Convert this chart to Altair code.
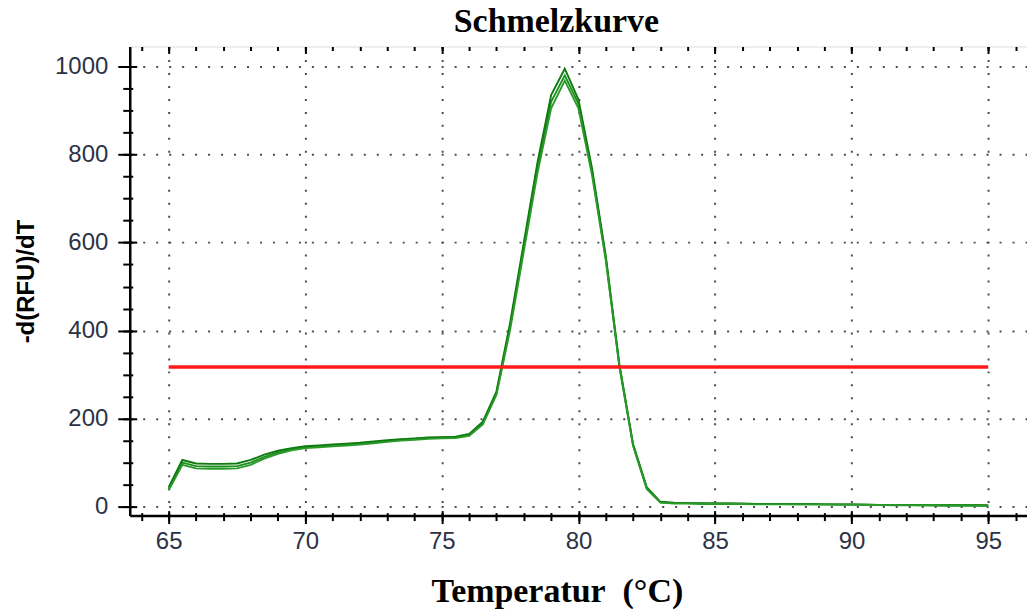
import altair as alt
import pandas as pd

# Temperature grid (°C)
temps = [65.0, 65.5, 66.0, 66.5, 67.0, 67.5, 68.0, 68.5, 69.0, 69.5,
         70.0, 70.5, 71.0, 71.5, 72.0, 72.5, 73.0, 73.5, 74.0, 74.5,
         75.0, 75.5, 76.0, 76.5, 77.0, 77.5, 78.0, 78.5, 79.0, 79.5,
         80.0, 80.5, 81.0, 81.5, 82.0, 82.5, 83.0, 83.5, 84.0, 84.5,
         85.0, 85.5, 86.0, 86.5, 87.0, 87.5, 88.0, 88.5, 89.0, 89.5,
         90.0, 90.5, 91.0, 91.5, 92.0, 92.5, 93.0, 93.5, 94.0, 94.5,
         95.0]

# -d(RFU)/dT, three overlapping replicates
rep_a = [40, 100, 92, 91, 91, 92, 100, 113, 123, 130,
         135, 137, 139, 141, 143, 146, 149, 152, 154, 156,
         157, 158, 163, 190, 258, 410, 590, 770, 920, 980,
         915, 760, 565, 320, 140, 42, 10, 8, 8, 7,
         7, 7, 6, 6, 6, 6, 5, 6, 5, 5,
         5, 4, 4, 4, 4, 3, 3, 3, 3, 3,
         2]
rep_b = [44, 106, 98, 97, 97, 98, 106, 118, 127, 133,
         137, 139, 141, 143, 145, 148, 151, 153, 155, 157,
         158, 159, 165, 193, 262, 418, 600, 782, 935, 995,
         925, 768, 570, 323, 142, 44, 11, 9, 8, 8,
         7, 7, 7, 6, 6, 6, 6, 6, 5, 5,
         5, 5, 4, 4, 4, 4, 3, 3, 3, 3,
         3]
rep_c = [37, 95, 87, 86, 86, 87, 95, 109, 120, 128,
         133, 135, 137, 139, 141, 144, 147, 150, 152, 154,
         155, 156, 161, 187, 254, 402, 580, 758, 905, 968,
         905, 752, 560, 317, 138, 40, 9, 7, 7, 6,
         6, 6, 6, 5, 5, 5, 5, 5, 5, 4,
         4, 4, 4, 3, 3, 3, 3, 2, 2, 2,
         2]

threshold = 317
threshold_start = 65
threshold_end = 95

x_major = [65, 70, 75, 80, 85, 90, 95]
x_minor = [64, 65, 66, 67, 68, 69, 70, 71, 72, 73, 74, 75, 76, 77, 78, 79, 80,
           81, 82, 83, 84, 85, 86, 87, 88, 89, 90, 91, 92, 93, 94, 95, 96]
y_major = [0, 200, 400, 600, 800, 1000]
y_minor = [0, 50, 100, 150, 200, 250, 300, 350, 400, 450, 500, 550, 600, 650,
           700, 750, 800, 850, 900, 950, 1000]

rows = []
for name, vals in (("A", rep_a), ("B", rep_b), ("C", rep_c)):
    for t, v in zip(temps, vals):
        rows.append({"T": t, "v": v, "rep": name})
df = pd.DataFrame(rows)
df_thr = pd.DataFrame({"T": [threshold_start], "T2": [threshold_end], "v": [threshold]})

xdom = [63.575, 96.42]
ydom = [-20.4, 1045.4]
xs = alt.Scale(domain=xdom, nice=False, zero=False)
ys = alt.Scale(domain=ydom, nice=False, zero=False)

LABEL_COLOR = "#2b3245"

def bare_axis(orient, values, size, offset=0):
    return alt.Axis(orient=orient, values=values, tickSize=size, offset=offset,
                    labels=False, domain=False, grid=False, ticks=True,
                    tickColor="black", tickWidth=2, title=None)

main_x = alt.Axis(orient="bottom", values=x_major, format="d", grid=True,
                  gridDash=[2, 11], gridColor="#3a3a3a", gridWidth=2, gridOpacity=0.9,
                  tickSize=8, tickWidth=2, tickColor="black",
                  domain=True, domainColor="black", domainWidth=2.5,
                  labelFont="Liberation Sans", labelFontSize=24, labelColor=LABEL_COLOR,
                  labelPadding=6,
                  title="Temperatur\u00a0\u00a0(°C)", titleFont="Liberation Serif",
                  titleFontSize=34, titleFontWeight="bold", titleColor="black",
                  titlePadding=21, titleX=428)
main_y = alt.Axis(orient="left", values=y_major, format="d", grid=True,
                  gridDash=[2, 11], gridColor="#3a3a3a", gridWidth=2, gridOpacity=0.9,
                  tickSize=12, tickWidth=2, tickColor="black",
                  domain=True, domainColor="black", domainWidth=2.5,
                  labelFont="Liberation Sans", labelFontSize=24, labelColor=LABEL_COLOR,
                  labelPadding=10,
                  title="-d(RFU)/dT", titleFont="Liberation Sans",
                  titleFontSize=24, titleFontWeight="bold", titleColor="black",
                  titlePadding=16)

lines = alt.Chart(df).mark_line(strokeWidth=1.9, clip=True).encode(
    x=alt.X("T:Q", scale=xs, axis=main_x),
    y=alt.Y("v:Q", scale=ys, axis=main_y),
    color=alt.Color("rep:N", scale=alt.Scale(range=["#1f8f1f", "#0f7a0f", "#2a9a2a"]), legend=None),
    detail="rep:N",
)

thr = alt.Chart(df_thr).mark_rule(color="#ff1a1a", strokeWidth=3.5).encode(
    x=alt.X("T:Q", scale=xs, axis=bare_axis("bottom", x_minor, 5)),
    x2="T2:Q",
    y=alt.Y("v:Q", scale=ys, axis=bare_axis("left", y_minor, 7)),
)

def ghost(xaxis, yaxis):
    return alt.Chart(df_thr).mark_point(opacity=0, size=1).encode(
        x=alt.X("T:Q", scale=xs, axis=xaxis),
        y=alt.Y("v:Q", scale=ys, axis=yaxis),
    )

g1 = ghost(bare_axis("bottom", x_major, 5, -5), bare_axis("left", y_major, 7, -7))
g2 = ghost(bare_axis("bottom", x_minor, 3, -3), bare_axis("left", y_minor, 3, -3))
g3 = ghost(bare_axis("top", x_major, 7, -7), bare_axis("left", y_major, 1, 0))
g4 = ghost(bare_axis("top", x_minor, 4, -4), bare_axis("left", y_major, 1, 0))

chart = alt.layer(lines, thr, g1, g2, g3, g4).resolve_axis(
    x="independent", y="independent"
).properties(
    width=899, height=470,
    title=alt.Title("Schmelzkurve", font="Liberation Serif", fontSize=34,
                    fontWeight="bold", color="black", offset=7, dx=-22),
    padding={"left": 130, "top": 46, "right": 0, "bottom": 99},
    autosize=alt.AutoSizeParams(type="none"),
).configure_view(stroke="black", strokeWidth=2.5).configure(background="white")

chart.save("out.html", embed_options={"renderer": "svg", "actions": False})
